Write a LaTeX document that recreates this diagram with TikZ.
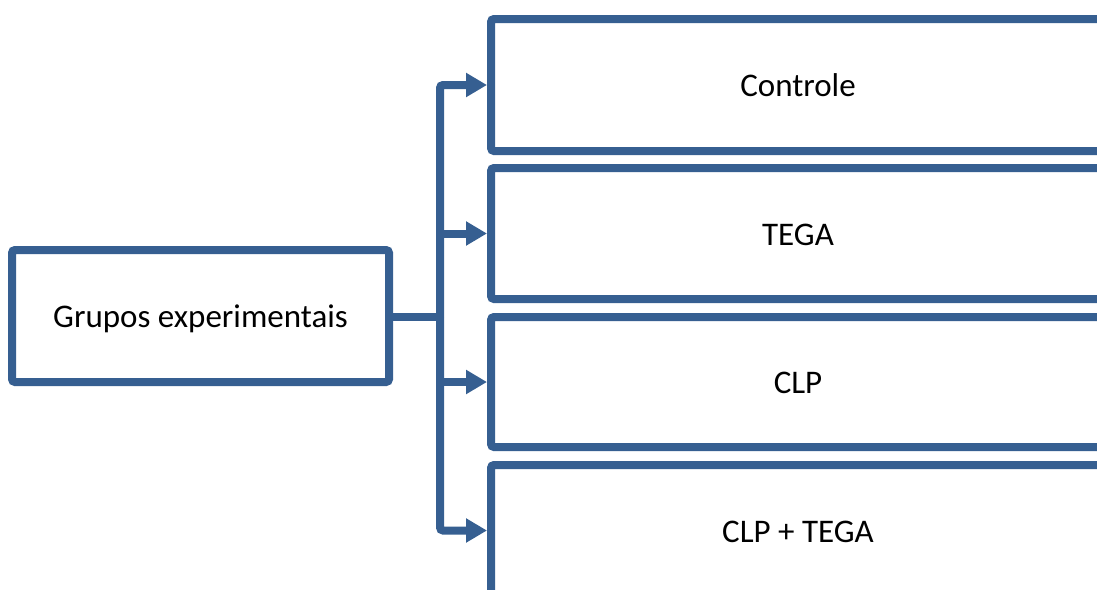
\documentclass[tikz,border=0pt]{standalone}
\usepackage{fontspec}
\setmainfont{Carlito}
\usetikzlibrary{arrows.meta}
\definecolor{boxblue}{RGB}{54,95,145}
\tikzset{
  gbox/.style={draw=boxblue, line width=8pt, rounded corners=3pt, fill=white,
    inner sep=0pt, text height=25pt, text depth=2pt,
    font=\fontsize{33}{40}\selectfont, text=black},
  conn/.style={draw=boxblue, line width=8pt, rounded corners=3pt},
  arr/.style={conn, -{Triangle[length=21pt,width=23pt]}}
}
\begin{document}
\begin{tikzpicture}[x=1pt,y=-1pt]
\useasboundingbox (0,0) rectangle (1097,589);
\clip (0,0) rectangle (1097,589);
\node[gbox, minimum width=377pt, minimum height=132pt] (g) at (200.5,316) {Grupos experimentais};
\node[gbox, minimum width=614pt, minimum height=132pt] (b1) at (798,85) {Controle};
\node[gbox, minimum width=614pt, minimum height=131pt] (b2) at (798,233.5) {TEGA};
\node[gbox, minimum width=614pt, minimum height=130pt] (b3) at (798,382) {CLP};
\node[gbox, minimum width=614pt, minimum height=131pt] (b4) at (798,530.5) {CLP + TEGA};
\coordinate (j) at (440,317);
\draw[conn] (g.east |- j) -- (j);
\draw[arr] (j) |- (b1.west);
\draw[arr] (j) |- (b4.west);
\draw[arr] (j |- b2.west) -- (b2.west);
\draw[arr] (j |- b3.west) -- (b3.west);
\end{tikzpicture}
\end{document}
